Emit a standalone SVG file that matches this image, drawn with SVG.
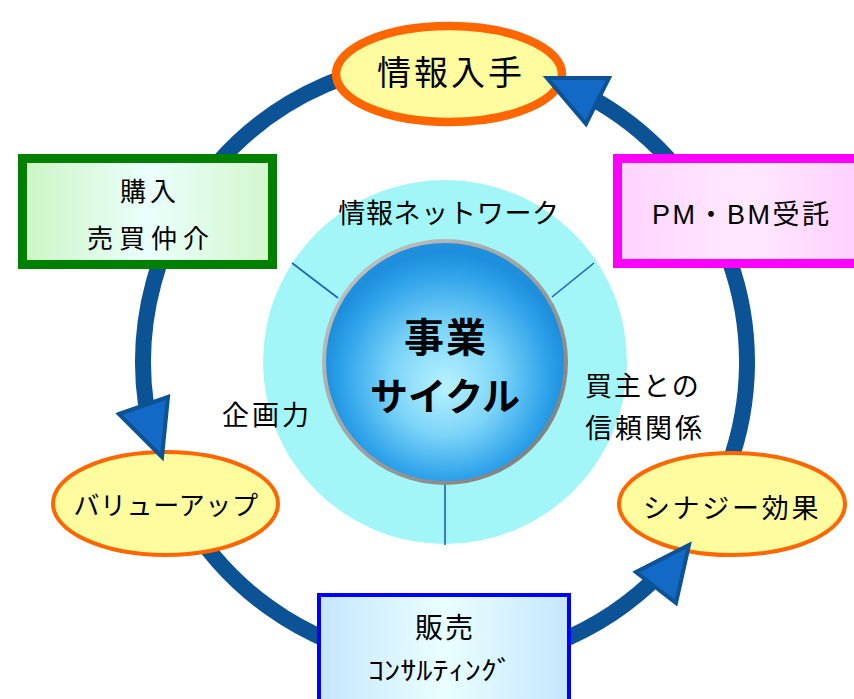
<svg xmlns="http://www.w3.org/2000/svg" width="854" height="699" viewBox="0 0 854 699">
<defs>
  <style>
    .t { font-family: "Noto Sans CJK JP", "Liberation Sans", sans-serif; fill: #000; }
    .ring { fill: none; stroke: #0B5394; stroke-width: 16; }
    .head { fill: #136AC6; stroke: #0B5394; stroke-width: 4; stroke-linejoin: miter; }
    .tick { stroke: #1F5FBF; stroke-width: 1.6; }
    .oval { fill: #FFFCA0; stroke: #FF6600; }
  </style>
  <linearGradient id="gGreen" x1="0" y1="0" x2="1" y2="0">
    <stop offset="0" stop-color="#CCF5C4"/>
    <stop offset="0.5" stop-color="#EAFFFC"/>
    <stop offset="1" stop-color="#D2F7CC"/>
  </linearGradient>
  <linearGradient id="gPink" x1="0" y1="0" x2="1" y2="0">
    <stop offset="0" stop-color="#FFD4FF"/>
    <stop offset="0.5" stop-color="#FFE9FF"/>
    <stop offset="1" stop-color="#FFCCFF"/>
  </linearGradient>
  <linearGradient id="gBlue" x1="0" y1="0" x2="1" y2="0">
    <stop offset="0" stop-color="#C6E6FF"/>
    <stop offset="0.5" stop-color="#E9FFFF"/>
    <stop offset="1" stop-color="#C6E6FF"/>
  </linearGradient>
  <radialGradient id="gSphere" cx="0.5" cy="0.55" r="0.5" fx="0.5" fy="0.6">
    <stop offset="0" stop-color="#B8F2FF"/>
    <stop offset="0.45" stop-color="#7CD4F8"/>
    <stop offset="0.85" stop-color="#2EA2EA"/>
    <stop offset="1" stop-color="#1E8FDC"/>
  </radialGradient>
  <linearGradient id="gRim" x1="0" y1="0" x2="1" y2="1">
    <stop offset="0" stop-color="#C8C8C8"/>
    <stop offset="1" stop-color="#777777"/>
  </linearGradient>
</defs>

<g id="center">
  <circle cx="445" cy="362" r="182" fill="#A2F6F8"/>
  <line class="tick" x1="292" y1="263" x2="338" y2="298"/>
  <line class="tick" x1="594" y1="263" x2="552" y2="297"/>
  <line class="tick" x1="445" y1="485" x2="445" y2="545"/>
  <circle cx="445" cy="362" r="121" fill="url(#gSphere)" stroke="url(#gRim)" stroke-width="4"/>
  <text class="t" x="446" y="352" font-size="40" font-weight="bold" text-anchor="middle" letter-spacing="2">事業</text>
  <text class="t" x="445" y="410" font-size="38" font-weight="bold" text-anchor="middle">サイクル</text>
  <text class="t" x="449" y="223" font-size="27" text-anchor="middle" letter-spacing="0.7">情報ネットワーク</text>
  <text class="t" x="222" y="425" font-size="27" letter-spacing="3">企画力</text>
  <text class="t" x="585" y="396" font-size="27" letter-spacing="2">買主との</text>
  <text class="t" x="585" y="438" font-size="27" letter-spacing="3">信頼関係</text>
</g>

<g id="connectors">
  <path class="ring" d="M445,60 A302,302 0 0 0 146,404.5"/>
  <path class="ring" d="M183.5,513 A302,302 0 0 0 650,583.6"/>
  <path class="ring" d="M728.8,465.3 A302,302 0 0 0 598.3,101.8"/>
</g>

<g id="n-info">
  <ellipse class="oval" cx="449" cy="74" rx="113" ry="48" stroke-width="8.5"/>
  <text class="t" x="451" y="85" font-size="34" text-anchor="middle" letter-spacing="3">情報入手</text>
</g>

<g id="n-purchase">
  <rect x="22.5" y="158.5" width="250" height="106" fill="url(#gGreen)" stroke="#008000" stroke-width="9"/>
  <text class="t" x="150" y="201" font-size="26" text-anchor="middle" letter-spacing="4">購入</text>
  <text class="t" x="151" y="248" font-size="26" text-anchor="middle" letter-spacing="6">売買仲介</text>
</g>

<g id="n-pmbm">
  <rect x="617.5" y="158.5" width="260" height="105" fill="url(#gPink)" stroke="#FF00FF" stroke-width="9"/>
  <text x="652" y="224" font-size="27" letter-spacing="2.5" font-family="Liberation Sans, Noto Sans CJK JP, sans-serif" fill="#000">PM・BM受託</text>
</g>

<g id="n-valueup">
  <ellipse class="oval" cx="165.5" cy="503.5" rx="112.5" ry="51.5" stroke-width="4"/>
  <text class="t" x="166" y="515" font-size="26" text-anchor="middle" letter-spacing="0.6">バリューアップ</text>
</g>

<g id="n-synergy">
  <ellipse class="oval" cx="732" cy="504" rx="113" ry="51" stroke-width="4"/>
  <text class="t" x="732" y="518" font-size="27" text-anchor="middle" letter-spacing="2.7">シナジー効果</text>
</g>

<g id="n-sales">
  <rect x="319" y="595" width="250" height="120" fill="url(#gBlue)" stroke="#0000FF" stroke-width="4"/>
  <text class="t" x="445" y="638" font-size="28" text-anchor="middle" letter-spacing="2">販売</text>
  <text class="t" x="368" y="680" font-size="26" textLength="145" lengthAdjust="spacingAndGlyphs">ｺﾝｻﾙﾃｨﾝｸﾞ</text>
</g>

<g id="arrowheads">
  <polygon class="head" points="547,78 609,78 586,124"/>
  <polygon class="head" points="119,414 168,397 162,457"/>
  <polygon class="head" points="636,572 689,545 676,603"/>
</g>
</svg>
